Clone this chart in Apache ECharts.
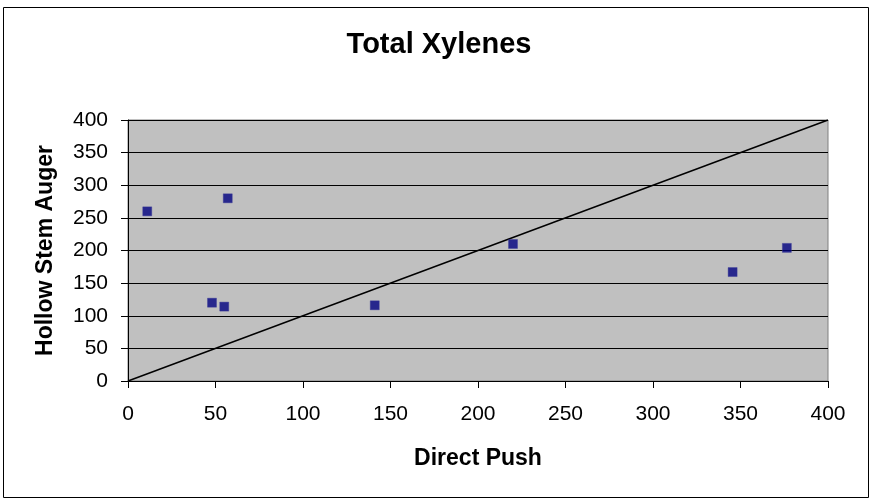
<!DOCTYPE html>
<html>
<head>
<meta charset="utf-8">
<script src="https://cdn.jsdelivr.net/npm/echarts@6/dist/echarts.min.js"></script>
<style>
  html, body { margin: 0; padding: 0; background: #ffffff; }
  #chart { width: 875px; height: 502px; }
</style>
</head>
<body>
<div id="chart"></div>
<script>
// Paired samples: Direct Push (x) vs Hollow Stem Auger (y)
const directPush = [11, 57, 48, 55, 141, 220, 345.5, 376.5];
const hollowStemAuger = [260, 280, 120, 114, 116, 210, 167, 204];
// 1:1 reference line
const oneToOneX = [0, 400];
const oneToOneY = [0, 400];
const axisTicks = [0, 50, 100, 150, 200, 250, 300, 350, 400];

const chart = echarts.init(document.getElementById('chart'), null, { renderer: 'canvas' });

const font = '"Liberation Sans", Arial, sans-serif';

const option = {
  backgroundColor: '#ffffff',
  animation: false,
  title: {
    text: 'Total Xylenes',
    left: 434,
    top: 25,
    textAlign: 'center',
    textStyle: { fontFamily: font, fontSize: 29, fontWeight: 'bold', color: '#000' }
  },
  graphic: [{
    type: 'rect',
    shape: { x: 3.5, y: 7.5, width: 865, height: 490 },
    style: { fill: 'none', stroke: '#000', lineWidth: 1 },
    silent: true,
    z: -1
  }],
  grid: {
    left: 128, top: 120, right: 47, bottom: 121,
    show: true,
    backgroundColor: '#c0c0c0',
    borderColor: '#808080',
    borderWidth: 1
  },
  xAxis: {
    type: 'value',
    min: axisTicks[0],
    max: axisTicks[axisTicks.length - 1],
    interval: 50,
    name: 'Direct Push',
    nameLocation: 'middle',
    nameGap: 66,
    nameTextStyle: { fontFamily: font, fontSize: 23, fontWeight: 'bold', color: '#000' },
    axisLine: { show: true, lineStyle: { color: '#000', width: 1 } },
    axisTick: { show: true, inside: false, length: 7, lineStyle: { color: '#000' } },
    axisLabel: { fontFamily: font, fontSize: 21, color: '#000', margin: 23 },
    splitLine: { show: false }
  },
  yAxis: {
    type: 'value',
    min: axisTicks[0],
    max: axisTicks[axisTicks.length - 1],
    interval: 50,
    name: 'Hollow Stem Auger',
    nameLocation: 'middle',
    nameGap: 71,
    nameTextStyle: { fontFamily: font, fontSize: 23, fontWeight: 'bold', color: '#000' },
    axisLine: { show: true, lineStyle: { color: '#000', width: 1 } },
    axisTick: { show: true, inside: false, length: 7, lineStyle: { color: '#000' } },
    axisLabel: { fontFamily: font, fontSize: 21, color: '#000', margin: 20 },
    splitLine: { show: true, lineStyle: { color: '#000', width: 1 } }
  },
  series: [
    {
      type: 'line',
      data: oneToOneX.map((x, i) => [x, oneToOneY[i]]),
      showSymbol: false,
      lineStyle: { color: '#000', width: 1.5 },
      z: 3
    },
    {
      type: 'scatter',
      data: directPush.map((x, i) => [x, hollowStemAuger[i]]),
      symbol: 'rect',
      symbolSize: 9,
      itemStyle: { color: '#000080', borderColor: '#3a3a99', borderWidth: 0.5 },
      z: 4
    }
  ]
};

chart.setOption(option);
</script>
</body>
</html>
